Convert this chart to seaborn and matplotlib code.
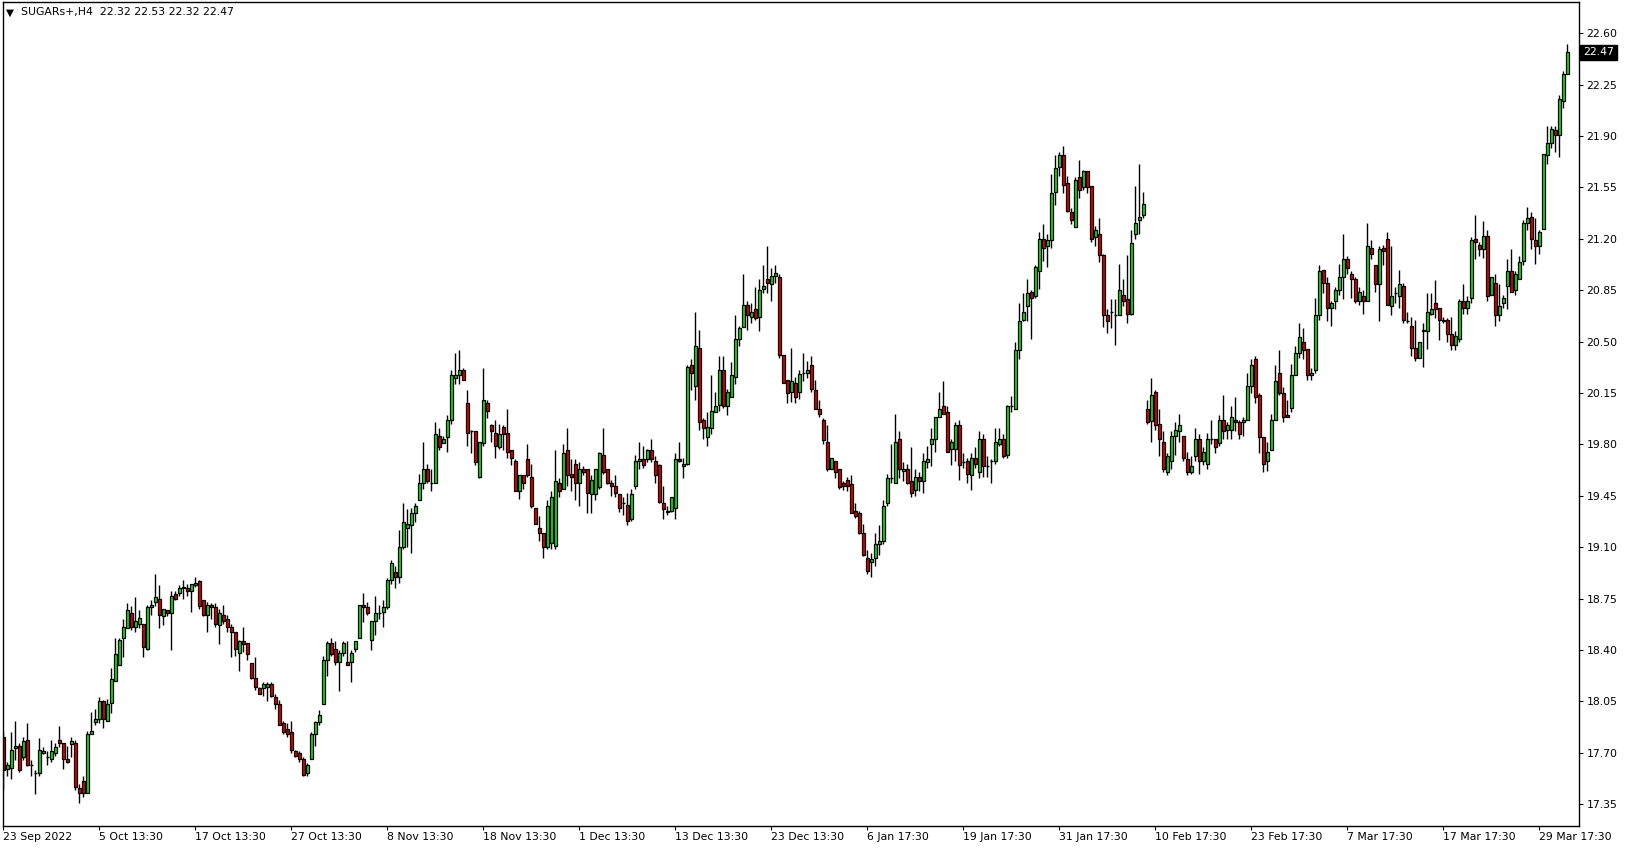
import numpy as np
import matplotlib
matplotlib.use("Agg")
import matplotlib.pyplot as plt
import seaborn as sns

# H4 candles, SUGARs+
opens = [
    17.81, 17.59, 17.60, 17.73, 17.75, 17.67, 17.79, 17.62, 17.56, 17.56,
    17.70, 17.67, 17.66, 17.70, 17.79, 17.77, 17.66, 17.76, 17.77, 17.46,
    17.51, 17.43, 17.83, 17.91, 17.93, 18.05, 17.92, 18.04, 18.19, 18.30,
    18.48, 18.55, 18.65, 18.56, 18.58, 18.58, 18.41, 18.69, 18.73, 18.75,
    18.63, 18.67, 18.65, 18.78, 18.79, 18.83, 18.82, 18.80, 18.84, 18.87,
    18.74, 18.64, 18.71, 18.69, 18.57, 18.64, 18.61, 18.56, 18.52, 18.38,
    18.46, 18.45, 18.31, 18.21, 18.14, 18.14, 18.15, 18.17, 18.08, 18.03,
    17.90, 17.86, 17.84, 17.71, 17.70, 17.66, 17.56, 17.66, 17.83, 17.91,
    18.03, 18.33, 18.45, 18.41, 18.32, 18.38, 18.32, 18.32, 18.41, 18.48,
    18.71, 18.69, 18.47, 18.60, 18.65, 18.66, 18.69, 18.88, 18.93, 18.90,
    19.10, 19.23, 19.25, 19.33, 19.42, 19.54, 19.63, 19.54, 19.54, 19.86,
    19.81, 19.85, 19.97, 20.25, 20.27, 20.31, 20.08, 19.89, 19.89, 19.58,
    19.81, 20.08, 19.93, 19.88, 19.78, 19.92, 19.88, 19.76, 19.69, 19.48,
    19.59, 19.70, 19.58, 19.37, 19.23, 19.20, 19.10, 19.13, 19.11, 19.54,
    19.50, 19.76, 19.60, 19.67, 19.54, 19.63, 19.63, 19.46, 19.46, 19.51,
    19.73, 19.63, 19.54, 19.52, 19.46, 19.40, 19.39, 19.29, 19.52, 19.69,
    19.70, 19.70, 19.76, 19.69, 19.66, 19.40, 19.35, 19.35, 19.37, 19.70,
    19.65, 19.67, 20.34, 20.20, 20.46, 19.97, 19.85, 19.91, 20.02, 20.07,
    20.31, 20.06, 20.12, 20.26, 20.52, 20.60, 20.75, 20.67, 20.72, 20.67,
    20.86, 20.93, 20.89, 20.95, 20.94, 20.41, 20.24, 20.16, 20.22, 20.16,
    20.29, 20.29, 20.34, 20.17, 20.04, 19.97, 19.82, 19.63, 19.69, 19.63,
    19.54, 19.56, 19.53, 19.35, 19.33, 19.20, 19.03, 19.00, 19.03, 19.12,
    19.14, 19.40, 19.57, 19.54, 19.84, 19.62, 19.63, 19.55, 19.49, 19.58,
    19.55, 19.68, 19.80, 19.84, 19.99, 20.06, 20.02, 19.77, 19.77, 19.93,
    19.68, 19.69, 19.59, 19.71, 19.61, 19.84, 19.65, 19.69, 19.69, 19.80,
    19.84, 19.73, 20.06, 20.04, 20.44, 20.65, 20.74, 20.84, 20.81, 20.98,
    21.20, 21.15, 21.19, 21.52, 21.69, 21.77, 21.58, 21.38, 21.28, 21.62,
    21.55, 21.66, 21.56, 21.21, 21.23, 21.09, 20.68, 20.70, 20.68, 20.68,
    20.82, 20.79, 20.69, 21.23, 21.33, 21.36, 20.04, 19.96, 20.16, 19.94,
    19.82, 19.61, 19.69, 19.86, 19.89, 19.86, 19.70, 19.61, 19.72, 19.84,
    19.69, 19.67, 19.84, 19.84, 19.81, 19.97, 19.90, 19.90, 19.97, 19.95,
    19.95, 19.97, 20.20, 20.38, 20.14, 19.85, 19.69, 19.76, 19.97, 20.29,
    20.15, 20.00, 20.05, 20.27, 20.42, 20.50, 20.45, 20.27, 20.31, 20.68,
    20.99, 20.90, 20.73, 20.78, 20.85, 20.94, 21.06, 20.96, 20.93, 20.78,
    20.81, 20.78, 21.14, 21.02, 20.89, 21.14, 21.20, 20.74, 20.83, 20.81,
    20.88, 20.64, 20.61, 20.46, 20.39, 20.58, 20.57, 20.69, 20.76, 20.73,
    20.64, 20.65, 20.55, 20.48, 20.52, 20.78, 20.73, 20.80, 21.20, 21.16,
    21.13, 21.22, 20.82, 20.90, 20.68, 20.76, 20.88, 20.98, 20.85, 20.93,
    21.05, 21.31, 21.35, 21.19, 21.15, 21.27, 21.77, 21.85, 21.94, 21.91,
    22.14, 22.32,
]
highs = [
    17.84, 17.64, 17.84, 17.92, 17.77, 17.81, 17.90, 17.65, 17.58, 17.80,
    17.74, 17.71, 17.79, 17.77, 17.88, 17.77, 17.75, 17.81, 17.79, 17.49,
    17.54, 17.85, 17.98, 18.00, 18.08, 18.06, 18.07, 18.28, 18.48, 18.48,
    18.61, 18.72, 18.70, 18.76, 18.67, 18.58, 18.71, 18.74, 18.92, 18.84,
    18.68, 18.67, 18.80, 18.80, 18.84, 18.88, 18.85, 18.85, 18.90, 18.88,
    18.74, 18.73, 18.72, 18.72, 18.68, 18.71, 18.64, 18.58, 18.52, 18.47,
    18.56, 18.45, 18.31, 18.35, 18.15, 18.18, 18.18, 18.18, 18.10, 18.06,
    17.92, 17.90, 17.92, 17.72, 17.71, 17.67, 17.63, 17.84, 17.92, 17.99,
    18.36, 18.46, 18.48, 18.46, 18.40, 18.46, 18.46, 18.40, 18.46, 18.71,
    18.79, 18.73, 18.60, 18.77, 18.71, 18.74, 18.89, 19.01, 18.97, 19.22,
    19.40, 19.36, 19.37, 19.40, 19.60, 19.82, 19.67, 19.63, 19.95, 19.91,
    19.86, 20.00, 20.31, 20.42, 20.44, 20.32, 20.17, 19.90, 19.89, 19.82,
    20.32, 20.10, 19.94, 19.97, 19.94, 19.93, 20.04, 19.76, 19.70, 19.59,
    19.59, 19.80, 19.67, 19.37, 19.31, 19.20, 19.42, 19.48, 19.76, 19.57,
    19.80, 19.91, 19.70, 19.70, 19.68, 19.65, 19.63, 19.59, 19.63, 19.75,
    19.91, 19.63, 19.56, 19.59, 19.46, 19.44, 19.47, 19.50, 19.73, 19.82,
    19.79, 19.77, 19.84, 19.72, 19.67, 19.52, 19.38, 19.44, 19.74, 19.82,
    19.71, 20.34, 20.38, 20.70, 20.58, 19.98, 20.02, 20.27, 20.16, 20.40,
    20.40, 20.18, 20.36, 20.68, 20.61, 20.96, 20.78, 20.76, 20.87, 20.93,
    21.02, 21.15, 21.00, 21.02, 20.96, 20.41, 20.24, 20.46, 20.26, 20.31,
    20.42, 20.37, 20.40, 20.24, 20.10, 19.98, 19.93, 19.71, 19.69, 19.63,
    19.55, 19.58, 19.59, 19.40, 19.35, 19.26, 19.08, 19.06, 19.20, 19.25,
    19.42, 19.60, 19.80, 20.01, 19.89, 19.68, 19.67, 19.78, 19.63, 19.61,
    19.74, 19.79, 19.91, 19.99, 20.16, 20.23, 20.06, 19.84, 19.95, 19.97,
    19.74, 19.71, 19.74, 19.78, 19.89, 19.87, 19.72, 19.70, 19.91, 19.91,
    19.87, 20.07, 20.13, 20.50, 20.76, 20.83, 20.93, 20.85, 21.02, 21.25,
    21.30, 21.23, 21.64, 21.77, 21.79, 21.83, 21.63, 21.41, 21.62, 21.74,
    21.67, 21.66, 21.56, 21.29, 21.34, 21.10, 20.72, 20.79, 20.79, 21.03,
    20.93, 21.09, 21.26, 21.56, 21.71, 21.52, 20.10, 20.25, 20.17, 20.04,
    19.89, 19.74, 19.89, 19.95, 20.01, 19.86, 19.75, 19.72, 19.91, 19.87,
    19.78, 19.88, 19.97, 19.84, 20.00, 20.14, 19.95, 20.06, 20.12, 19.97,
    19.99, 20.29, 20.38, 20.40, 20.15, 19.85, 19.82, 20.01, 20.34, 20.44,
    20.19, 20.10, 20.35, 20.47, 20.63, 20.59, 20.45, 20.32, 20.80, 21.02,
    20.99, 20.94, 20.78, 20.87, 21.03, 21.23, 21.08, 20.98, 20.94, 20.87,
    20.85, 21.31, 21.19, 21.02, 21.15, 21.16, 21.25, 21.15, 20.87, 20.99,
    20.90, 20.70, 20.67, 20.65, 20.50, 20.63, 20.83, 20.83, 20.92, 20.73,
    20.67, 20.66, 20.67, 20.57, 20.79, 20.89, 20.81, 21.21, 21.36, 21.18,
    21.32, 21.26, 20.94, 20.96, 20.89, 20.82, 21.06, 21.13, 20.98, 21.08,
    21.33, 21.42, 21.38, 21.34, 21.26, 21.78, 21.97, 21.97, 21.97, 22.18,
    22.34, 22.53,
]
lows = [
    17.45, 17.54, 17.52, 17.65, 17.57, 17.65, 17.61, 17.54, 17.42, 17.54,
    17.69, 17.62, 17.64, 17.68, 17.74, 17.59, 17.63, 17.67, 17.45, 17.36,
    17.40, 17.43, 17.83, 17.89, 17.90, 17.87, 17.92, 17.97, 18.19, 18.30,
    18.35, 18.55, 18.54, 18.52, 18.55, 18.35, 18.40, 18.64, 18.70, 18.55,
    18.57, 18.63, 18.40, 18.74, 18.77, 18.75, 18.77, 18.66, 18.83, 18.68,
    18.63, 18.52, 18.61, 18.56, 18.44, 18.58, 18.52, 18.35, 18.36, 18.26,
    18.39, 18.33, 18.20, 18.13, 18.10, 18.09, 18.05, 18.08, 18.00, 17.89,
    17.83, 17.81, 17.70, 17.67, 17.64, 17.54, 17.54, 17.66, 17.75, 17.89,
    18.03, 18.22, 18.36, 18.30, 18.12, 18.36, 18.30, 18.18, 18.39, 18.48,
    18.59, 18.64, 18.40, 18.50, 18.61, 18.56, 18.68, 18.85, 18.82, 18.86,
    19.09, 19.10, 19.06, 19.27, 19.42, 19.50, 19.54, 19.48, 19.54, 19.76,
    19.81, 19.75, 19.94, 20.21, 20.21, 20.24, 19.79, 19.74, 19.66, 19.57,
    19.79, 19.98, 19.82, 19.71, 19.77, 19.76, 19.71, 19.66, 19.48, 19.43,
    19.50, 19.58, 19.37, 19.26, 19.14, 19.03, 19.09, 19.09, 19.09, 19.44,
    19.50, 19.52, 19.48, 19.42, 19.38, 19.59, 19.33, 19.33, 19.42, 19.50,
    19.60, 19.53, 19.45, 19.44, 19.34, 19.32, 19.25, 19.28, 19.50, 19.63,
    19.64, 19.68, 19.68, 19.54, 19.40, 19.29, 19.32, 19.34, 19.29, 19.68,
    19.57, 19.66, 20.17, 20.10, 19.90, 19.84, 19.79, 19.87, 20.02, 20.03,
    20.05, 20.00, 20.12, 20.21, 20.47, 20.60, 20.58, 20.63, 20.65, 20.57,
    20.83, 20.83, 20.78, 20.90, 20.39, 20.22, 20.08, 20.09, 20.08, 20.11,
    20.23, 20.25, 20.16, 20.04, 19.99, 19.80, 19.62, 19.63, 19.57, 19.50,
    19.49, 19.48, 19.33, 19.30, 19.19, 19.04, 18.92, 18.90, 18.97, 19.05,
    19.12, 19.38, 19.54, 19.54, 19.57, 19.55, 19.53, 19.44, 19.45, 19.48,
    19.47, 19.64, 19.65, 19.75, 19.99, 20.01, 19.75, 19.66, 19.69, 19.56,
    19.64, 19.54, 19.49, 19.64, 19.57, 19.58, 19.58, 19.54, 19.67, 19.79,
    19.71, 19.71, 20.02, 20.04, 20.38, 20.64, 20.64, 20.52, 20.80, 20.86,
    21.05, 21.01, 21.14, 21.43, 21.63, 21.51, 21.38, 21.30, 21.28, 21.48,
    21.53, 21.51, 21.18, 21.15, 21.04, 20.60, 20.56, 20.59, 20.48, 20.68,
    20.74, 20.63, 20.68, 21.20, 21.23, 21.34, 19.94, 19.82, 19.90, 19.72,
    19.61, 19.59, 19.63, 19.73, 19.82, 19.69, 19.59, 19.60, 19.69, 19.60,
    19.66, 19.63, 19.80, 19.74, 19.79, 19.84, 19.84, 19.84, 19.89, 19.84,
    19.86, 19.97, 20.15, 20.08, 19.74, 19.61, 19.62, 19.76, 19.97, 20.14,
    19.95, 19.99, 20.02, 20.27, 20.39, 20.38, 20.24, 20.24, 20.29, 20.65,
    20.83, 20.64, 20.61, 20.72, 20.82, 20.79, 20.96, 20.80, 20.76, 20.75,
    20.69, 20.78, 21.06, 20.84, 20.64, 21.02, 20.75, 20.68, 20.76, 20.73,
    20.63, 20.63, 20.40, 20.37, 20.39, 20.33, 20.45, 20.68, 20.66, 20.51,
    20.63, 20.50, 20.44, 20.44, 20.50, 20.69, 20.69, 20.76, 21.06, 21.08,
    21.07, 20.78, 20.82, 20.61, 20.64, 20.73, 20.72, 20.84, 20.82, 20.93,
    21.02, 21.26, 21.13, 21.03, 21.10, 21.27, 21.71, 21.82, 21.79, 21.76,
    22.09, 22.32,
]
closes = [
    17.58, 17.62, 17.72, 17.75, 17.58, 17.78, 17.62, 17.62, 17.56, 17.72,
    17.71, 17.67, 17.71, 17.74, 17.77, 17.66, 17.64, 17.78, 17.47, 17.43,
    17.43, 17.83, 17.85, 17.93, 18.05, 17.93, 18.03, 18.20, 18.37, 18.47,
    18.56, 18.67, 18.56, 18.60, 18.62, 18.42, 18.69, 18.71, 18.76, 18.64,
    18.68, 18.65, 18.77, 18.75, 18.82, 18.82, 18.80, 18.85, 18.86, 18.70,
    18.64, 18.71, 18.69, 18.58, 18.65, 18.60, 18.56, 18.52, 18.41, 18.46,
    18.44, 18.37, 18.21, 18.15, 18.10, 18.17, 18.17, 18.09, 18.03, 17.89,
    17.84, 17.83, 17.72, 17.68, 17.66, 17.55, 17.62, 17.83, 17.91, 17.96,
    18.33, 18.45, 18.37, 18.32, 18.38, 18.45, 18.30, 18.38, 18.46, 18.71,
    18.69, 18.65, 18.60, 18.65, 18.65, 18.69, 18.88, 18.99, 18.90, 19.10,
    19.27, 19.26, 19.33, 19.38, 19.54, 19.63, 19.55, 19.54, 19.87, 19.78,
    19.84, 19.97, 20.27, 20.27, 20.31, 20.24, 19.88, 19.89, 19.68, 19.82,
    20.10, 20.03, 19.89, 19.79, 19.87, 19.87, 19.75, 19.71, 19.48, 19.59,
    19.54, 19.59, 19.38, 19.26, 19.20, 19.10, 19.38, 19.44, 19.55, 19.48,
    19.74, 19.59, 19.58, 19.54, 19.63, 19.61, 19.47, 19.56, 19.63, 19.74,
    19.61, 19.54, 19.52, 19.47, 19.37, 19.40, 19.28, 19.46, 19.69, 19.70,
    19.66, 19.76, 19.70, 19.59, 19.41, 19.36, 19.34, 19.44, 19.70, 19.69,
    19.67, 20.33, 20.29, 20.47, 19.95, 19.91, 19.92, 20.03, 20.06, 20.31,
    20.06, 20.16, 20.27, 20.52, 20.59, 20.75, 20.68, 20.70, 20.66, 20.85,
    20.88, 20.90, 20.95, 20.97, 20.41, 20.22, 20.15, 20.23, 20.12, 20.28,
    20.29, 20.31, 20.18, 20.04, 20.01, 19.83, 19.63, 19.71, 19.61, 19.51,
    19.52, 19.52, 19.33, 19.31, 19.20, 19.05, 18.94, 19.02, 19.12, 19.14,
    19.38, 19.57, 19.57, 19.82, 19.63, 19.63, 19.54, 19.47, 19.58, 19.55,
    19.69, 19.70, 19.84, 19.99, 20.04, 20.01, 19.75, 19.82, 19.93, 19.66,
    19.68, 19.60, 19.71, 19.67, 19.84, 19.65, 19.65, 19.69, 19.82, 19.84,
    19.72, 20.06, 20.06, 20.44, 20.64, 20.70, 20.83, 20.80, 21.01, 21.20,
    21.14, 21.19, 21.51, 21.68, 21.77, 21.57, 21.39, 21.33, 21.60, 21.53,
    21.66, 21.55, 21.20, 21.26, 21.09, 20.68, 20.64, 20.70, 20.68, 20.85,
    20.78, 20.69, 21.17, 21.31, 21.35, 21.44, 19.95, 20.14, 19.93, 19.84,
    19.63, 19.72, 19.86, 19.90, 19.93, 19.71, 19.61, 19.65, 19.84, 19.69,
    19.75, 19.84, 19.84, 19.78, 19.97, 19.89, 19.93, 19.99, 19.95, 19.87,
    19.97, 20.20, 20.34, 20.12, 19.85, 19.67, 19.75, 19.97, 20.23, 20.15,
    19.99, 19.99, 20.27, 20.42, 20.53, 20.44, 20.27, 20.29, 20.68, 20.98,
    20.90, 20.73, 20.76, 20.85, 20.94, 21.06, 21.00, 20.93, 20.78, 20.84,
    20.78, 21.15, 21.10, 20.89, 21.13, 21.12, 20.75, 20.81, 20.83, 20.89,
    20.65, 20.64, 20.46, 20.39, 20.50, 20.57, 20.70, 20.72, 20.72, 20.65,
    20.65, 20.55, 20.48, 20.54, 20.78, 20.73, 20.78, 21.19, 21.18, 21.13,
    21.22, 20.81, 20.94, 20.68, 20.74, 20.80, 20.98, 20.84, 20.96, 21.04,
    21.31, 21.34, 21.20, 21.15, 21.25, 21.78, 21.85, 21.95, 21.91, 22.15,
    22.32, 22.47,
]

date_labels = ["23 Sep 2022", "5 Oct 13:30", "17 Oct 13:30", "27 Oct 13:30",
               "8 Nov 13:30", "18 Nov 13:30", "1 Dec 13:30", "13 Dec 13:30",
               "23 Dec 13:30", "6 Jan 17:30", "19 Jan 17:30", "31 Jan 17:30",
               "10 Feb 17:30", "23 Feb 17:30", "7 Mar 17:30", "17 Mar 17:30",
               "29 Mar 17:30"]
price_ticks = [17.35, 17.70, 18.05, 18.40, 18.75, 19.10, 19.45, 19.80,
               20.15, 20.50, 20.85, 21.20, 21.55, 21.90, 22.25, 22.60]

sns.set_theme(style="white")
plt.rcParams['font.family'] = ['DejaVu Sans']

o = np.array(opens)
h = np.array(highs)
l = np.array(lows)
c = np.array(closes)
x = np.arange(len(o))

W, H = 1629, 850
fig = plt.figure(figsize=(W / 100, H / 100), dpi=100)
fig.patch.set_facecolor('white')
ax = fig.add_axes([2.7 / W, 24.3 / H, (1579 - 2.7) / W, (825.7 - 2) / H])

up = c > o
down = c < o
flat = c == o

ax.vlines(x, l, h, color='black', linewidth=1.0, zorder=1)
ax.bar(x[up], (c - o)[up], bottom=o[up], width=0.62, color='#14dc14',
       edgecolor='black', linewidth=0.9, zorder=2)
ax.bar(x[down], (c - o)[down], bottom=o[down], width=0.62, color='#e00000',
       edgecolor='black', linewidth=0.9, zorder=2)
ax.hlines(o[flat], x[flat] - 0.38, x[flat] + 0.38, color='black', linewidth=1.0, zorder=2)

ax.set_xlim(-0.15, 393.9)
ax.set_ylim(17.204, 22.813)

for s in ax.spines.values():
    s.set_color('black')
    s.set_linewidth(1.0)

ax.yaxis.tick_right()
ax.set_yticks(price_ticks)
ax.set_yticklabels([f"{v:.2f}" for v in price_ticks])
ax.set_xticks(np.arange(0, 24 * len(date_labels), 24))
ax.set_xticklabels(date_labels, ha='left')
ax.tick_params(axis='both', which='both', direction='out', length=3, width=0.8,
               color='black', labelsize=7.8, labelcolor='black')
ax.tick_params(axis='y', pad=2.5, right=True, left=False)
ax.tick_params(axis='x', pad=1.5, bottom=True)
ax.grid(False)

# current price box
ax.annotate("22.47", xy=(1, 22.47), xycoords=ax.get_yaxis_transform(),
            xytext=(3.0, 0), textcoords='offset points', ha='left', va='center',
            color='white', fontsize=7.8,
            bbox=dict(boxstyle='square,pad=0.25', fc='black', ec='black'))

# header
fig.text(5.5 / W, 1 - 12.5 / H, "\u25bc", fontsize=7.5, color='black', va='center', ha='left')
fig.text(21 / W, 1 - 12.5 / H, "SUGARs+,H4  22.32 22.53 22.32 22.47", fontsize=7.8,
         color='black', va='center', ha='left')

fig.savefig("out.png", dpi=100, facecolor='white')
